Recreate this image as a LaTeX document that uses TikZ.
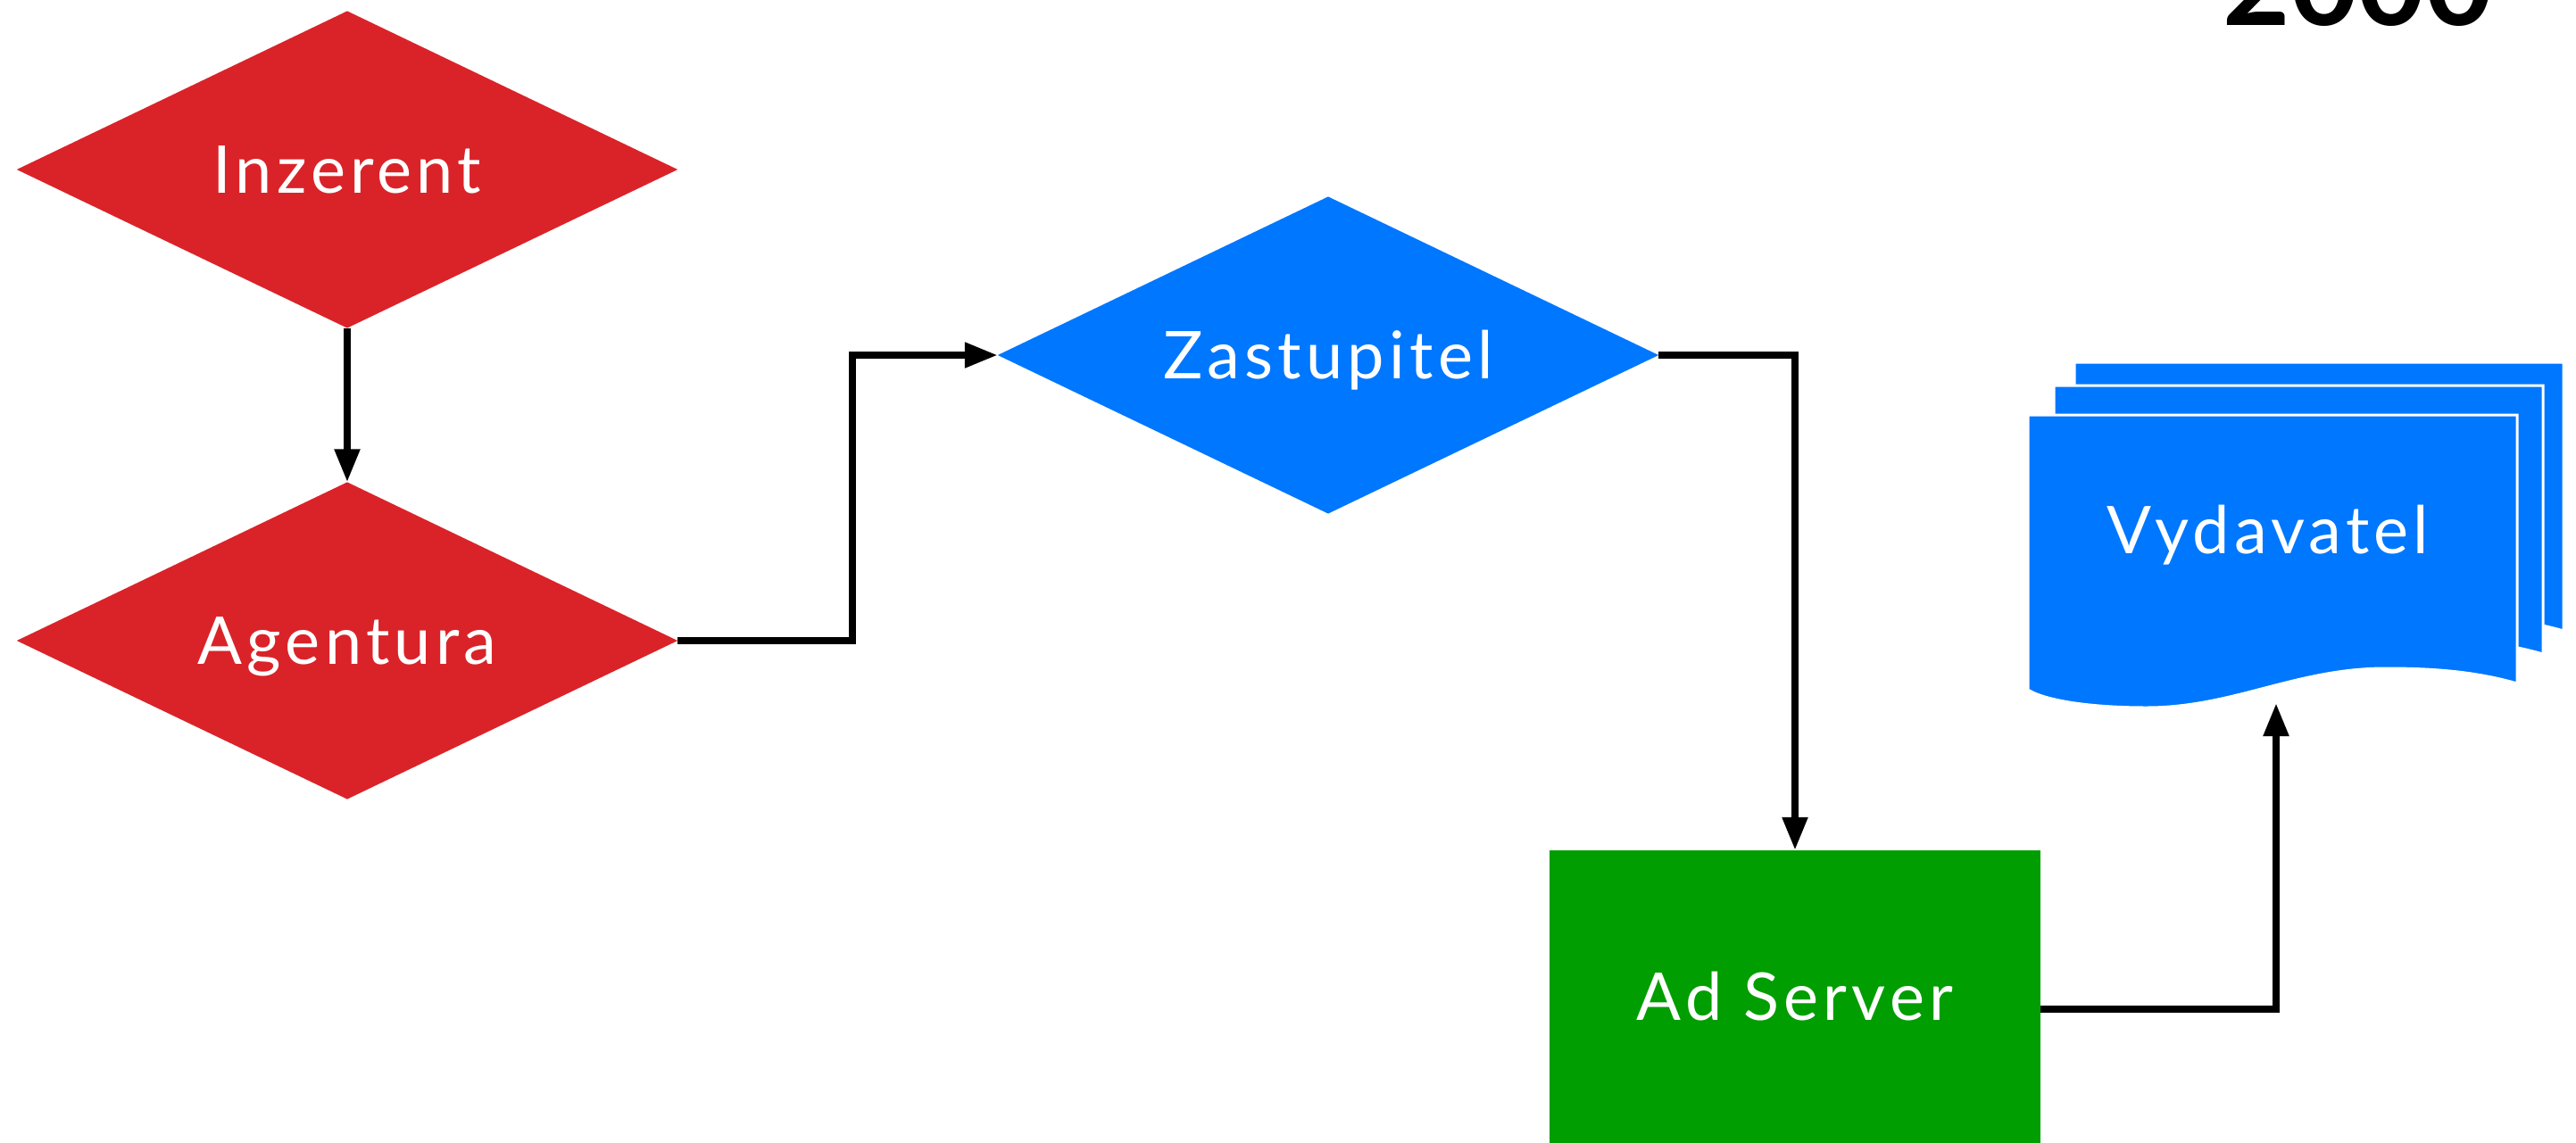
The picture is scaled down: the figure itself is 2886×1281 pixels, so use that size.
\documentclass[tikz,border=0pt]{standalone}
\usepackage{fontspec}
\setmainfont{Lato}
\newfontfamily\boxfont{Lato}[LetterSpace=7]
\usetikzlibrary{arrows.meta, positioning, shapes.geometric}
\definecolor{adred}{RGB}{218,35,41}
\definecolor{adblue}{RGB}{0,119,255}
\definecolor{adgreen}{RGB}{0,158,0}

\begin{document}
\begin{tikzpicture}[
    x=0.01cm, y=-0.01cm,
    >={Triangle[length=3.7mm, width=2.7mm]},
    label text/.style={text=white, font=\boxfont\fontsize{21}{25}\selectfont,
        text height=15pt, text depth=0pt},
    decision/.style={label text, shape=diamond, shape aspect=2.08,
        minimum width=7.4cm, minimum height=3.55cm, inner sep=0pt, outer sep=0pt},
    server/.style={label text, rectangle, fill=adgreen, minimum width=5.5cm,
        minimum height=3.28cm, inner sep=0pt, outer sep=0pt},
    sheet/.style={fill=adblue, draw=white, line width=0.3mm},
    flow/.style={draw, line width=0.8mm, ->}
    ]
    \useasboundingbox (0,0) rectangle (2886,1281);

    % Nodes
    \node[decision, fill=adred] (inzerent) at (389,190) {Inzerent};
    \node[decision, fill=adred] (agentura) at (389,718) {Agentura};
    \node[decision, fill=adblue] (zastupitel) at (1488,398) {Zastupitel};
    \node[server] (adserver) at (2011,1117) {Ad Server};

    % publisher stack
    \foreach \dx/\dy in {52/-59, 29/-33, 0/0}
        \path[sheet, shift={(\dx,\dy)}] (2272,465) -- (2820,465) -- (2820,766)
            .. controls (2772,752) and (2722,749) .. (2673,749)
            .. controls (2572,749) and (2502,793) .. (2405,793)
            .. controls (2332,793) and (2287,783) .. (2272,773) -- cycle;
    \node[label text] (vydavatel) at (2541,594) {Vydavatel};
    \coordinate (pubin) at (2550,788);

    \node[anchor=base east, font=\bfseries\fontsize{37}{42}\selectfont] (year) at (2805,28) {2000};

    % Edges
    \draw[flow] (inzerent.south) -- (agentura.north);
    \draw[flow] (agentura.east) -- ++(196,0) |- (zastupitel.west);
    \draw[flow] (zastupitel.east) -| (adserver.north);
    \draw[flow] ([yshift=-0.14cm]adserver.east) -| (pubin);

\end{tikzpicture}
\end{document}
